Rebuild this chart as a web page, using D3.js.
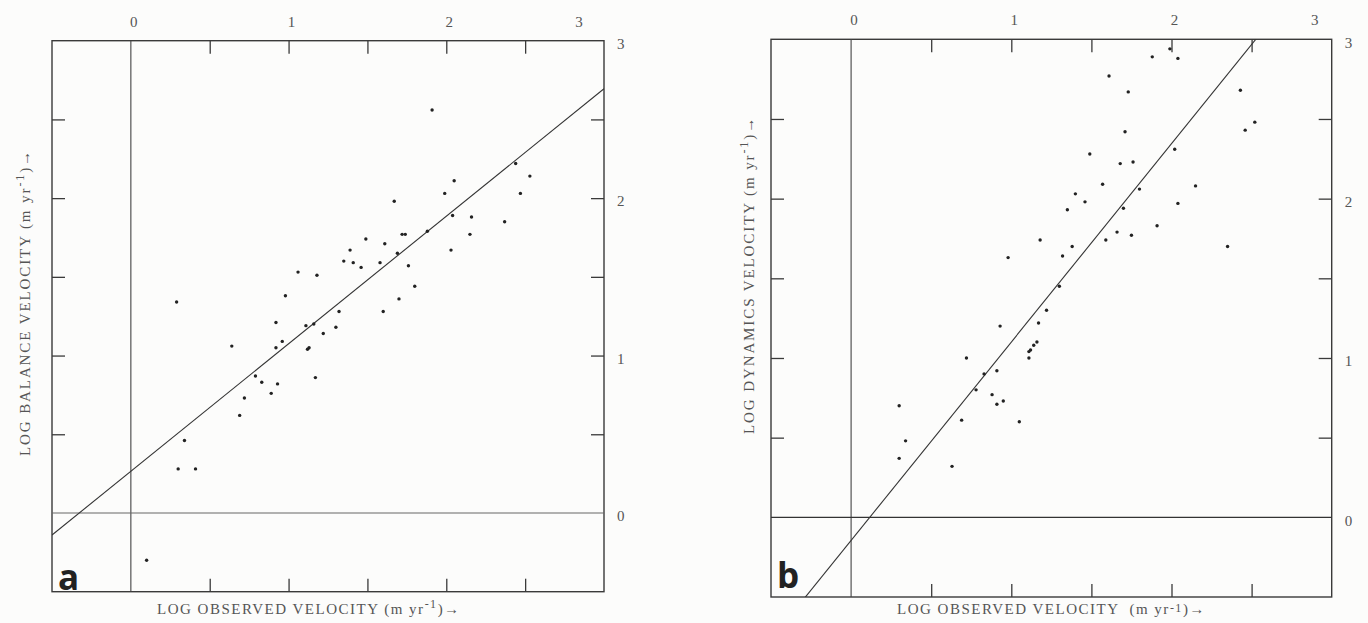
<!DOCTYPE html>
<html>
<head>
<meta charset="utf-8">
<script src="https://cdn.jsdelivr.net/npm/d3@7"></script>
<style>
  body { margin: 0; background: #fcfcfb; }
  svg { display: block; }
  .lbl { font-family: "Liberation Serif", serif; fill: #555; white-space: pre; }
</style>
</head>
<body>
<div id="chart"></div>
<script>
// log observed velocity vs log balance velocity (panel a)
const obsA = [1.91, 2.44, 2.53, 2.05, 1.99, 2.47, 1.67, 2.04, 2.16, 2.37, 1.88, 1.72, 1.74, 2.15,
  1.49, 1.61, 1.39, 2.03, 1.69, 1.35, 1.41, 1.58, 1.46, 1.76, 1.06, 1.18, 1.80, 0.98, 1.70,
  0.29, 1.32, 1.60, 0.92, 1.11, 1.16, 1.30, 1.22, 0.96, 0.64, 0.92, 1.12, 1.13, 0.79, 1.17,
  0.83, 0.93, 0.89, 0.72, 0.69, 0.34, 0.30, 0.41, 0.10];
const balA = [2.56, 2.22, 2.14, 2.11, 2.03, 2.03, 1.98, 1.89, 1.88, 1.85, 1.79, 1.77, 1.77, 1.77,
  1.74, 1.71, 1.67, 1.67, 1.65, 1.60, 1.59, 1.59, 1.56, 1.57, 1.53, 1.51, 1.44, 1.38, 1.36,
  1.34, 1.28, 1.28, 1.21, 1.19, 1.20, 1.18, 1.14, 1.09, 1.06, 1.05, 1.04, 1.05, 0.87, 0.86,
  0.83, 0.82, 0.76, 0.73, 0.62, 0.46, 0.28, 0.28, -0.30];

// log observed velocity vs log dynamics velocity (panel b)
const obsB = [1.99, 1.88, 2.04, 1.61, 1.73, 2.43, 2.52, 2.46, 1.71, 1.49, 2.02, 1.68, 1.76, 1.57,
  1.80, 2.15, 1.40, 1.46, 1.35, 1.70, 2.04, 1.91, 1.66, 1.75, 1.18, 1.59, 1.38, 2.35, 1.32,
  0.98, 1.30, 1.22, 1.17, 0.93, 1.16, 1.14, 1.12, 1.11, 1.11, 0.72, 0.83, 0.91, 0.78, 0.88,
  0.91, 0.95, 0.30, 0.69, 1.05, 0.34, 0.30, 0.63];
const dynB = [2.94, 2.89, 2.88, 2.77, 2.67, 2.68, 2.48, 2.43, 2.42, 2.28, 2.31, 2.22, 2.23, 2.09,
  2.06, 2.08, 2.03, 1.98, 1.93, 1.94, 1.97, 1.83, 1.79, 1.77, 1.74, 1.74, 1.70, 1.70, 1.64,
  1.63, 1.45, 1.30, 1.22, 1.20, 1.10, 1.08, 1.05, 1.04, 1.00, 1.00, 0.90, 0.92, 0.80, 0.77,
  0.71, 0.73, 0.70, 0.61, 0.60, 0.48, 0.37, 0.32];

// regression lines: intercept, slope
const fitA = [0.265, 0.81];
const fitB = [-0.145, 1.245];

const minorTicks = [0.5, 1, 1.5, 2, 2.5];
const labelTicks = [0, 1, 2, 3];

const W = 1368, H = 623;
const svg = d3.select("#chart").append("svg").attr("width", W).attr("height", H);

function panel(p) {
  const x = d3.scaleLinear().domain([-0.5, 3]).range([p.left, p.right]);
  const y = d3.scaleLinear().domain([-0.5, 3]).range([p.bottom, p.top]);
  const g = svg.append("g");

  // frame
  g.append("rect")
    .attr("x", x(-0.5)).attr("y", y(3))
    .attr("width", x(3) - x(-0.5)).attr("height", y(-0.5) - y(3))
    .attr("fill", "none").attr("stroke", "#3a3a3a").attr("stroke-width", 1.4);

  // zero lines
  g.append("line").attr("x1", x(0)).attr("x2", x(0)).attr("y1", y(-0.5)).attr("y2", y(3))
    .attr("stroke", "#444").attr("stroke-width", 1.1);
  g.append("line").attr("x1", x(-0.5)).attr("x2", x(3)).attr("y1", y(0)).attr("y2", y(0))
    .attr("stroke", p.zeroCol).attr("stroke-width", 1.2);

  // inward ticks on all four sides
  const tk = 13;
  g.append("g").attr("transform", `translate(0,${y(-0.5)})`)
    .call(d3.axisBottom(x).tickValues(minorTicks).tickSize(-tk).tickFormat(""));
  g.append("g").attr("transform", `translate(0,${y(3)})`)
    .call(d3.axisTop(x).tickValues(minorTicks).tickSize(-tk).tickFormat(""));
  g.append("g").attr("transform", `translate(${x(-0.5)},0)`)
    .call(d3.axisLeft(y).tickValues(minorTicks).tickSize(-tk).tickFormat(""));
  g.append("g").attr("transform", `translate(${x(3)},0)`)
    .call(d3.axisRight(y).tickValues(minorTicks).tickSize(-tk).tickFormat(""));
  g.selectAll(".domain").remove();
  g.selectAll(".tick line").attr("stroke", "#3a3a3a").attr("stroke-width", 1.3);

  // labels on top and right
  const top = g.append("g").attr("transform", `translate(2.5,${y(3)})`)
    .call(d3.axisTop(x).tickValues(labelTicks).tickSize(0).tickPadding(14).tickFormat(d3.format("d")));
  top.selectAll("text").filter(d => d === 3).attr("dx", p.lastDx);
  const right = g.append("g").attr("transform", `translate(${x(3)},3)`)
    .call(d3.axisRight(y).tickValues(labelTicks).tickSize(0).tickPadding(13).tickFormat(d3.format("d")));
  [top, right].forEach(a => {
    a.select(".domain").remove();
    a.selectAll("text").attr("class", "lbl").style("font-size", "15px").attr("fill", "#555");
  });

  // regression line, clipped to the frame
  const cid = "clip" + p.letter;
  svg.append("clipPath").attr("id", cid).append("rect")
    .attr("x", x(-0.5)).attr("y", y(3)).attr("width", x(3) - x(-0.5)).attr("height", y(-0.5) - y(3));
  g.append("line").attr("clip-path", `url(#${cid})`)
    .attr("x1", x(-0.5)).attr("y1", y(p.fit[0] - 0.5 * p.fit[1]))
    .attr("x2", x(3)).attr("y2", y(p.fit[0] + 3 * p.fit[1]))
    .attr("stroke", "#333").attr("stroke-width", 1.1);

  // points
  g.selectAll("circle.pt").data(p.xs).join("circle")
    .attr("class", "pt")
    .attr("cx", d => x(d)).attr("cy", (d, i) => y(p.ys[i]))
    .attr("r", 1.7).attr("fill", "#222");

  // axis titles
  const xt = g.append("text").attr("class", "lbl")
    .attr("x", p.xTitleX).attr("y", 614).style("font-size", "15px").style("letter-spacing", "1.5px");
  xt.append("tspan").text(p.xTitle);
  xt.append("tspan").attr("dy", p.supX ? -6 : -2).style("font-size", "12px").text("-1");
  xt.append("tspan").attr("dy", p.supX ? 6 : 2).text(")\u2192");

  const yt = g.append("text").attr("class", "lbl")
    .attr("transform", `translate(${p.yTitleX},${p.yTitleY}) rotate(-90)`)
    .style("font-size", "15px").style("letter-spacing", "1.9px");
  yt.append("tspan").text(p.yTitle);
  yt.append("tspan").attr("dy", -6).style("font-size", "12px").text("-1");
  yt.append("tspan").attr("dy", 6).text(")\u2192");

  // panel letter
  g.append("text").attr("x", x(-0.5) + 6).attr("y", p.letterY)
    .style("font-family", "'Open Sans', 'DejaVu Sans', sans-serif")
    .style("font-weight", "bold").style("font-size", "35px").attr("fill", "#222")
    .text(p.letter);
}

panel({
  letter: "a", left: 52, right: 604, top: 40.7, bottom: 591.7,
  xs: obsA, ys: balA, fit: fitA, zeroCol: "#666", lastDx: -28,
  xTitle: "LOG OBSERVED VELOCITY (m yr", supX: true, xTitleX: 157,
  yTitle: "LOG BALANCE VELOCITY (m yr", yTitleX: 30, yTitleY: 456,
  letterY: 590
});

panel({
  letter: "b", left: 771, right: 1331.7, top: 39.3, bottom: 597,
  xs: obsB, ys: dynB, fit: fitB, zeroCol: "#333", lastDx: -20,
  xTitle: "LOG OBSERVED VELOCITY  (m yr", supX: false, xTitleX: 897,
  yTitle: "LOG DYNAMICS VELOCITY (m yr", yTitleX: 754, yTitleY: 434,
  letterY: 588
});
</script>
</body>
</html>
